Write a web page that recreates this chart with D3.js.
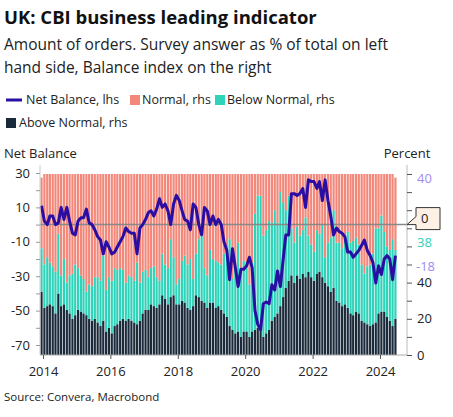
<!DOCTYPE html>
<html><head><meta charset="utf-8">
<script src="https://cdn.jsdelivr.net/npm/d3@7/dist/d3.min.js"></script>
<style>body{margin:0;background:#fff;font-family:"Open Sans",sans-serif}</style>
</head><body><svg id="c" width="453" height="417"></svg>
<script>
const startMonth = "2013-12";
const netBalance = [11,
 2,0,5,5,0,1,10,3,10,2,-5,-6,
 2,4,4,9,1,0,-3,-7,-9,-17,-10,-13,
 -17,-16,-13,-10,-7,-2,-4,-5,-5,-17,-2,0,
 3,7,8,5,9,15,10,12,8,0,12,17,
 14,8,3,2,-3,12,10,0,-6,10,8,0,
 5,0,3,0,-10,-15,-32,-14,-25,-36,-26,-26,
 -24,-19,-25,-50,-58,-61,-46,-45,-46,-35,-38,-27,
 -36,-20,-6,-6,18,18,17,18,21,10,26,25,
 25,21,25,14,26,14,5,-6,-2,-4,-5,-7,
 -16,-16,-19,-17,-15,-12,-9,-15,-18,-22,-34,-24,
 -29,-20,-18,-20,-32,-18];
const aboveNormal = [35,
 26,27,28,27,23,34,27,28,25,23,20,22,
 25,24,23,22,20,19,20,18,16,19,13,15,
 12,16,17,19,20,19,20,19,18,17,19,23,
 25,25,28,27,26,28,33,31,28,32,33,28,
 28,30,29,26,25,27,33,32,30,29,26,29,
 29,26,27,25,23,21,16,14,12,13,10,13,
 13,10,13,14,15,16,10,12,14,19,21,23,
 27,32,37,41,44,40,44,42,45,43,46,43,
 41,45,46,43,40,38,35,37,30,29,27,28,
 26,23,22,24,23,19,18,17,16,17,18,23,
 24,24,21,19,16,20];
const belowNormal = [24,
 24,27,23,22,23,33,17,25,15,21,25,28,
 23,20,19,13,19,19,23,25,25,36,23,28,
 29,32,30,29,27,21,24,24,23,34,21,23,
 22,18,20,22,17,13,23,19,20,32,21,11,
 14,22,26,24,28,15,23,32,36,19,18,29,
 24,26,24,25,33,36,48,28,37,49,36,39,
 37,29,38,64,73,72,56,57,60,54,59,50,
 63,52,43,47,26,22,27,24,24,33,20,18,
 16,24,21,29,14,24,30,43,32,33,32,35,
 42,39,41,41,38,31,27,32,34,39,52,47,
 53,44,39,39,48,38];
const normal = [39,
 50,46,49,51,54,33,56,47,60,56,55,50,
 52,56,58,65,61,62,57,57,59,45,64,57,
 59,52,53,52,53,60,56,57,59,49,60,54,
 53,57,52,51,57,59,44,50,52,36,46,61,
 58,48,45,50,47,58,44,36,34,52,56,42,
 47,48,49,50,44,43,36,58,51,38,54,48,
 50,61,49,22,12,12,34,31,26,27,20,27,
 10,16,20,12,30,38,29,34,31,24,34,39,
 43,31,33,28,46,38,35,20,38,38,41,37,
 32,38,37,35,39,50,55,51,50,44,30,30,
 23,32,40,42,36,40];
const leftTicks = [30,10,-10,-30,-50,-70];
const rightTicks = [0,20,40];
const xTicks = [2014,2016,2018,2020,2022,2024];

const C = {net:"#2a0ea3", normal:"#f2877a", below:"#2ed3b9", above:"#1b2a3b"};
const svg = d3.select("#c");
const parse = d3.timeParse("%Y-%m");
const t0 = parse(startMonth);
const data = netBalance.map((n,i)=>({d:d3.timeMonth.offset(t0,i),n,a:aboveNormal[i],b:belowNormal[i],o:normal[i]}));

const x = d3.scaleTime().domain([new Date(2014,0,1),new Date(2024,0,1)]).range([43,380]);
const yL = d3.scaleLinear().domain([-70,30]).range([345,173]);
const yR = d3.scaleLinear().domain([0,100]).range([355,174]);
const X0=40, X1=407;

svg.append("text").attr("x",4).attr("y",24).attr("font-size",18.5).attr("font-weight",700).attr("fill","#111").text("UK: CBI business leading indicator");
svg.append("text").attr("x",4).attr("y",50).attr("font-size",15.5).attr("fill","#222").text("Amount of orders. Survey answer as % of total on left");
svg.append("text").attr("x",4).attr("y",73).attr("font-size",15.5).attr("fill","#222").text("hand side, Balance index on the right");
const lg = svg.append("g").attr("font-size",12.5).attr("fill","#222");
lg.append("line").attr("x1",6).attr("x2",22).attr("y1",100).attr("y2",100).attr("stroke",C.net).attr("stroke-width",3);
lg.append("text").attr("x",26).attr("y",104).text("Net Balance, lhs");
lg.append("rect").attr("x",130).attr("y",95).attr("width",10).attr("height",10).attr("fill",C.normal);
lg.append("text").attr("x",142).attr("y",104).text("Normal, rhs");
lg.append("rect").attr("x",215).attr("y",95).attr("width",10).attr("height",10).attr("fill",C.below);
lg.append("text").attr("x",227).attr("y",104).text("Below Normal, rhs");
lg.append("rect").attr("x",6).attr("y",118).attr("width",10).attr("height",10).attr("fill",C.above);
lg.append("text").attr("x",19).attr("y",127).text("Above Normal, rhs");

svg.append("text").attr("x",4).attr("y",158).attr("font-size",13).attr("fill","#222").text("Net Balance");
svg.append("text").attr("x",407).attr("y",158).attr("font-size",13).attr("fill","#222").attr("text-anchor","middle").text("Percent");

const bw=2.2;
const g = svg.append("g");
data.forEach(d=>{
  const cx=x(d.d)+1.4;
  g.append("rect").attr("x",cx-bw/2).attr("width",bw).attr("y",yR(d.a)).attr("height",yR(0)-yR(d.a)).attr("fill",C.above);
  g.append("rect").attr("x",cx-bw/2).attr("width",bw).attr("y",yR(d.a+d.b)).attr("height",yR(d.a)-yR(d.a+d.b)).attr("fill",C.below);
  g.append("rect").attr("x",cx-bw/2).attr("width",bw).attr("y",yR(d.a+d.b+d.o)).attr("height",yR(d.a+d.b)-yR(d.a+d.b+d.o)).attr("fill",C.normal);
});
svg.append("line").attr("x1",X0).attr("x2",X1).attr("y1",yL(0)).attr("y2",yL(0)).attr("stroke","#888").attr("stroke-width",1.5);
svg.append("path").datum(data).attr("fill","none").attr("stroke",C.net).attr("stroke-width",3).attr("stroke-linejoin","round")
  .attr("d",d3.line().x(d=>x(d.d)+1.4).y(d=>yL(d.n)));

const la = svg.append("g").attr("transform",`translate(${X0},0)`).call(d3.axisLeft(yL).tickValues(d3.range(-70,31,10)).tickSize(4).tickFormat(v=>leftTicks.includes(v)?v:""));
la.select(".domain").attr("stroke","#ccc").attr("d",`M0,165V355`);
la.selectAll(".tick line").attr("stroke","#999");
la.selectAll("text").attr("font-size",13).attr("fill","#222").attr("font-family","Open Sans").attr("x",-10);
const ra = svg.append("g").attr("transform",`translate(${X1},0)`).call(d3.axisRight(yR).tickValues(d3.range(0,101,10)).tickSize(5).tickFormat(v=>rightTicks.includes(v)?v:""));
ra.select(".domain").attr("stroke","#bbb").attr("d",`M0,165V355`);
ra.selectAll(".tick line").attr("stroke","#555");
ra.selectAll("text").attr("font-size",13).attr("fill","#222").attr("font-family","Open Sans").attr("x",10);
const xa = svg.append("g").attr("transform",`translate(0,355)`).call(d3.axisBottom(x).tickValues(xTicks.map(y=>new Date(y,0,1))).tickSize(4).tickFormat(d3.timeFormat("%Y")));
xa.select(".domain").attr("stroke","#aaa").attr("d",`M${X0},0H${X1}`);
xa.selectAll(".tick line").attr("stroke","#555");
xa.selectAll("text").attr("font-size",13).attr("fill","#222").attr("font-family","Open Sans").attr("dy","1.1em");

const last = data[data.length-1];
svg.append("text").attr("x",417).attr("y",yR(last.a+last.b+last.o)+5).attr("font-size",13).attr("fill","#a38cf0").text(last.o);
svg.append("text").attr("x",417).attr("y",247).attr("font-size",13).attr("fill","#2ed3b9").text(last.b);
svg.append("text").attr("x",416).attr("y",271).attr("font-size",13).attr("fill","#9c8cf0").text(last.n);
const cy=yL(0);
svg.append("path").attr("d",`M407,${cy} L416,${cy-8} L416,${cy-17} L440,${cy-17} L440,${cy+5} L416,${cy+5} L416,${cy}Z`)
  .attr("fill","#fdf1e6").attr("stroke","#333").attr("stroke-width",1);
svg.append("text").attr("x",421).attr("y",cy-2).attr("font-size",13).attr("fill","#222").text("0");

svg.append("text").attr("x",4).attr("y",401).attr("font-size",11.5).attr("fill","#222").text("Source: Convera, Macrobond");
</script></body></html>
